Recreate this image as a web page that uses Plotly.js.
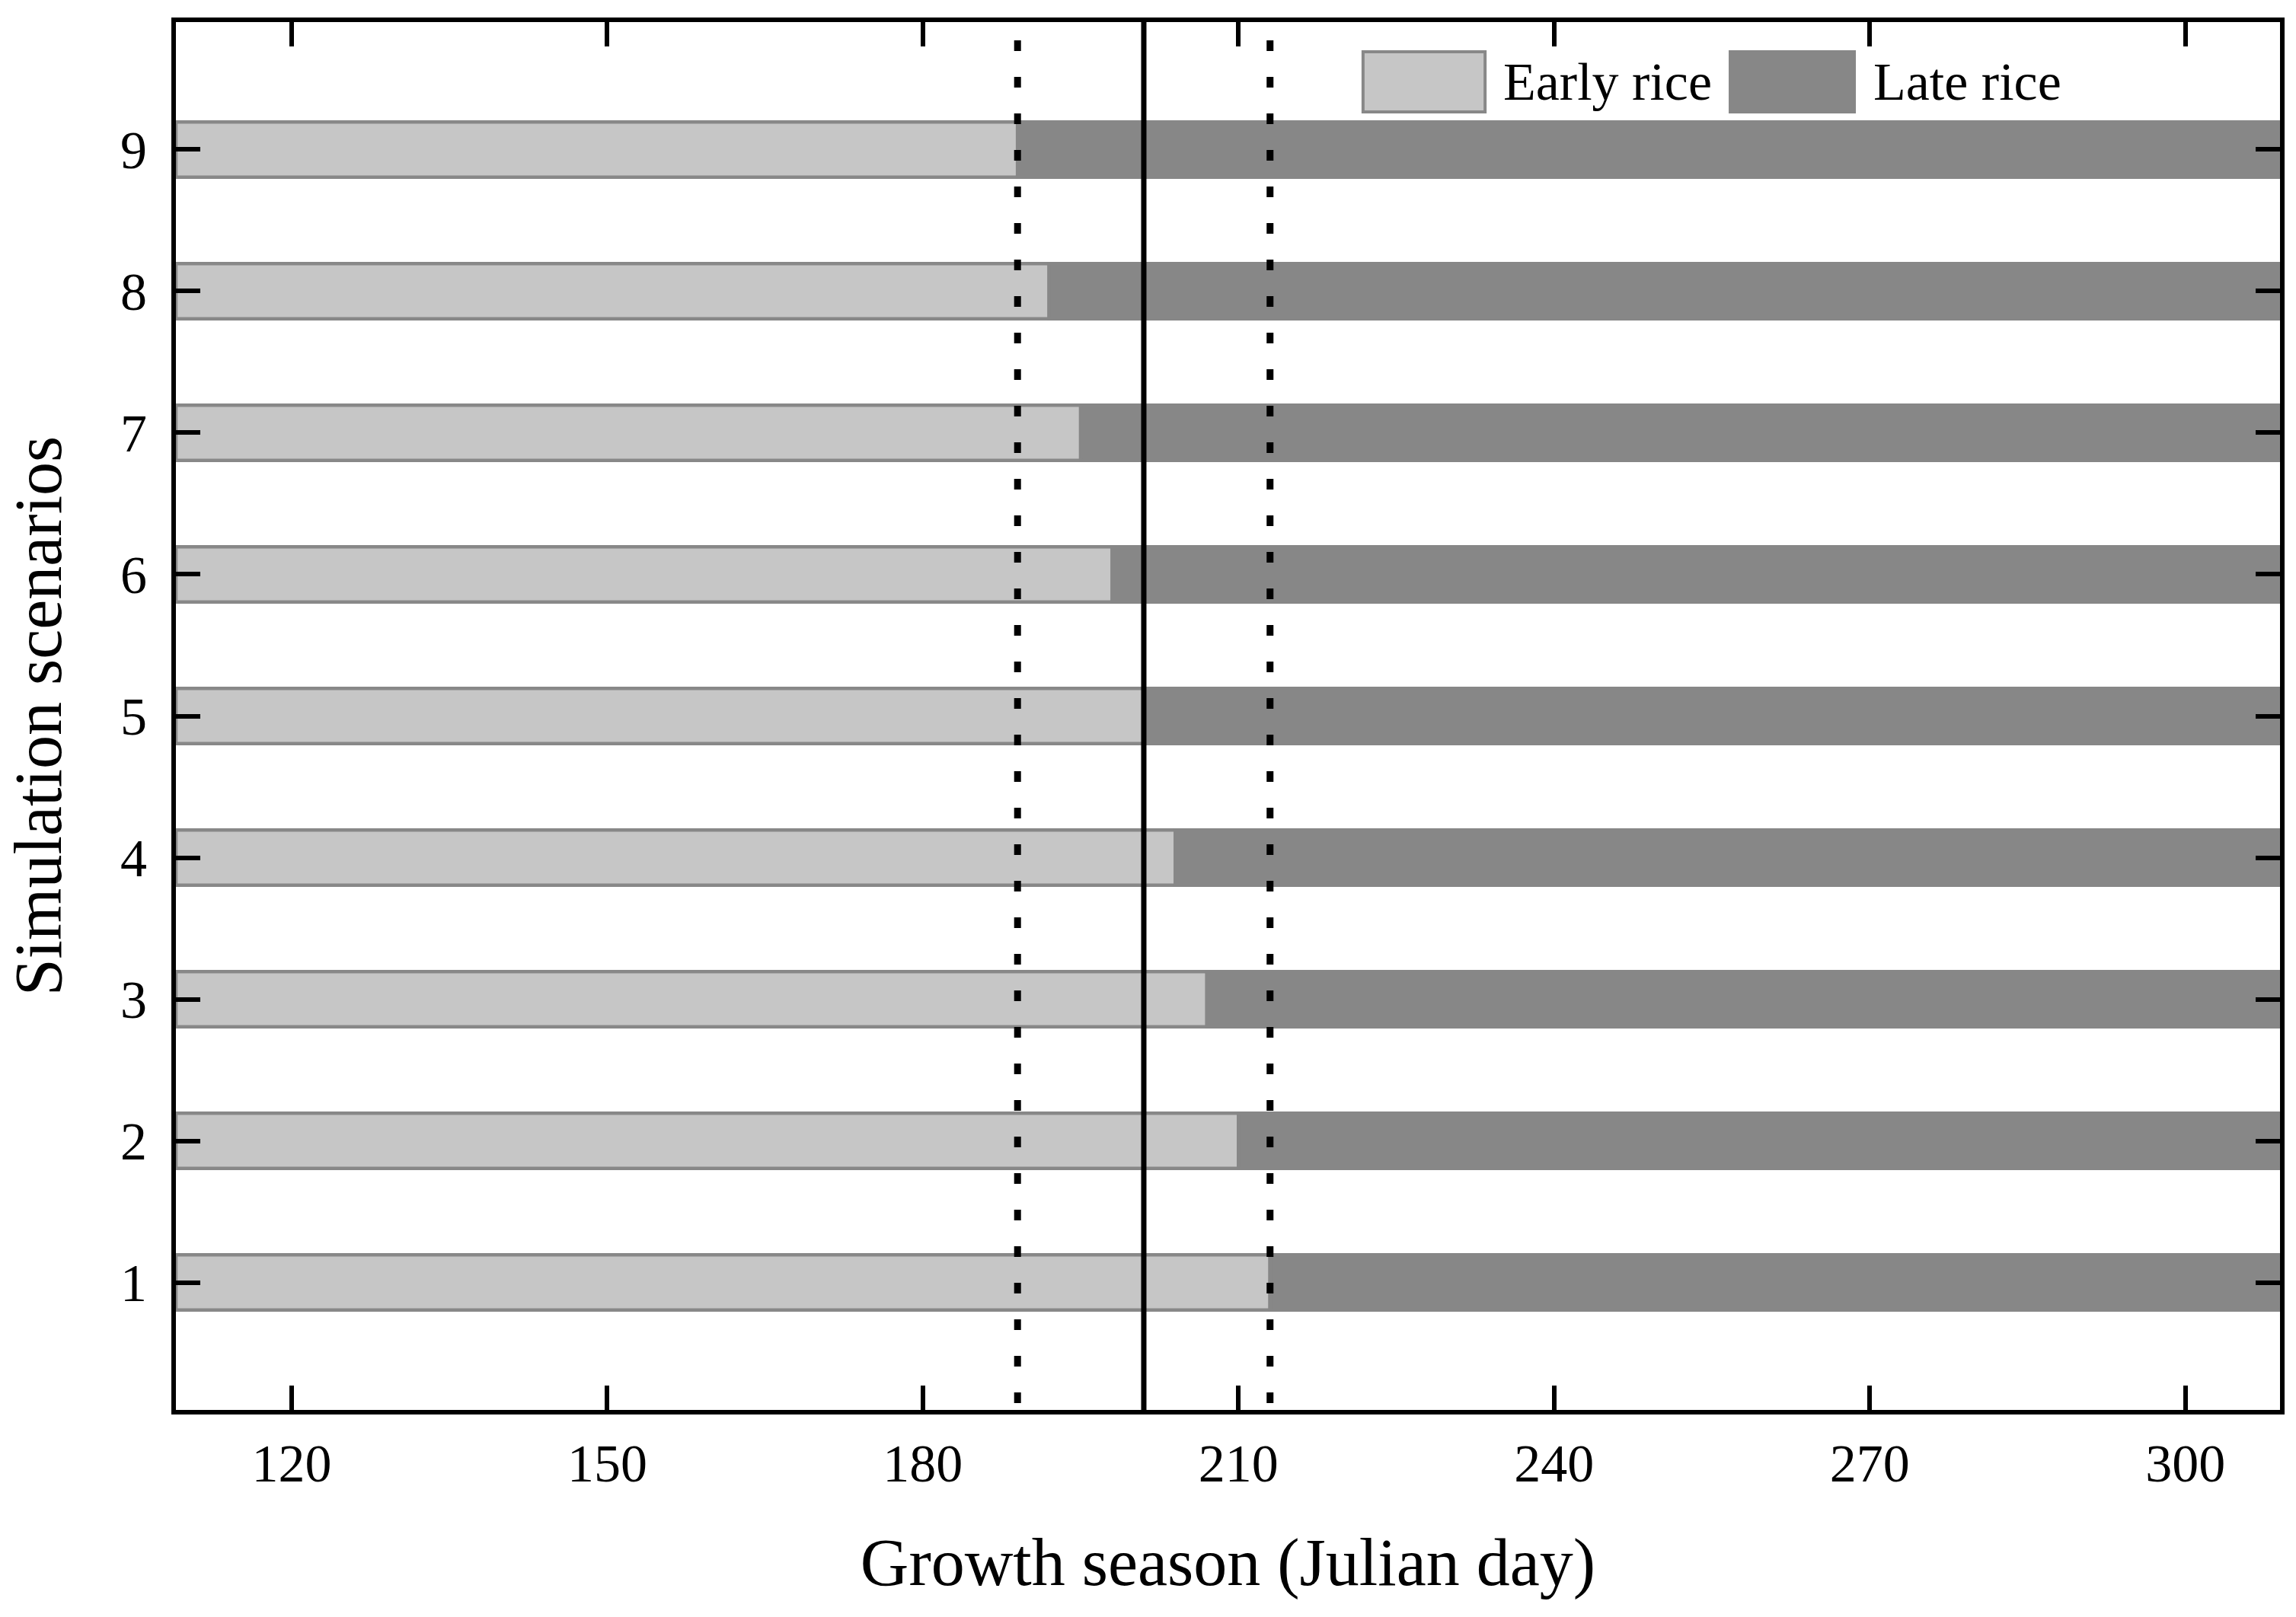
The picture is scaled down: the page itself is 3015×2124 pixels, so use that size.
<!DOCTYPE html>
<html>
<head>
<meta charset="utf-8">
<script src="https://cdn.plot.ly/plotly-3.0.1.min.js"></script>
<style>html,body{margin:0;padding:0;background:#fff;}#chart{width:3015px;height:2124px;}</style>
</head>
<body>
<div id="chart"></div>
<script>
// ---- data ----
const scenarios   = [1, 2, 3, 4, 5, 6, 7, 8, 9];
const earlyStart  = [109, 109, 109, 109, 109, 109, 109, 109, 109];
const earlyEnd    = [213, 210, 207, 204, 201, 198, 195, 192, 189];
const lateEnd     = [309, 309, 309, 309, 309, 309, 309, 309, 309];
const solidLineDay  = [201];
const dottedLineDays = [189, 213];
const xTickVals = [120, 150, 180, 210, 240, 270, 300];
const seriesNames = ['Early rice', 'Late rice'];

const earlyColor = '#c6c6c6';
const earlyEdge = '#888888';
const lateColor = '#878787';
const FONT = 'Liberation Serif, Times New Roman, serif';

const early = {
  type: 'bar', orientation: 'h', name: seriesNames[0],
  y: scenarios,
  base: earlyStart,
  x: earlyEnd.map((e, i) => e - earlyStart[i]),
  width: 0.39,
  marker: {color: earlyColor, line: {color: earlyEdge, width: 4.5}},
  showlegend: false, hoverinfo: 'skip'
};
const late = {
  type: 'bar', orientation: 'h', name: seriesNames[1],
  y: scenarios,
  base: earlyEnd,
  x: lateEnd.map((e, i) => e - earlyEnd[i]),
  width: 0.39,
  marker: {color: lateColor, line: {color: lateColor, width: 4.5}},
  showlegend: false, hoverinfo: 'skip'
};

const shapes = [];
solidLineDay.forEach(d => shapes.push({
  type: 'line', xref: 'x', yref: 'paper', x0: d, x1: d, y0: 1, y1: 0,
  line: {color: '#000', width: 7}
}));
dottedLineDays.forEach(d => shapes.push({
  type: 'line', xref: 'x', yref: 'paper', x0: d, x1: d, y0: 1, y1: 0,
  line: {color: '#000', width: 9, dash: '0px,24px,14px,10px'}
}));
// manual legend swatches (paper coords)
shapes.push({type: 'rect', xref: 'paper', yref: 'paper', x0: 0.5642, x1: 0.6222, y0: 0.9353, y1: 0.9786,
  fillcolor: earlyColor, line: {color: earlyEdge, width: 4}});
shapes.push({type: 'rect', xref: 'paper', yref: 'paper', x0: 0.7387, x1: 0.7977, y0: 0.9353, y1: 0.9786,
  fillcolor: lateColor, line: {color: lateColor, width: 4}});

const annotations = [
  {xref: 'paper', yref: 'paper', x: 0.6301, y: 0.957, xanchor: 'left', yanchor: 'middle',
   text: seriesNames[0], showarrow: false, font: {family: FONT, size: 70, color: '#000'}},
  {xref: 'paper', yref: 'paper', x: 0.806, y: 0.957, xanchor: 'left', yanchor: 'middle',
   text: seriesNames[1], showarrow: false, font: {family: FONT, size: 70, color: '#000'}}
];

const layout = {
  width: 3015, height: 2124,
  margin: {l: 231, r: 21, t: 29, b: 272},
  paper_bgcolor: '#fff', plot_bgcolor: '#fff',
  barmode: 'overlay',
  font: {family: FONT, color: '#000'},
  xaxis: {
    range: [109, 309], tickvals: xTickVals, ticktext: xTickVals.map(String),
    showgrid: false, zeroline: false,
    showline: true, linecolor: '#000', linewidth: 6, mirror: 'ticks',
    ticks: 'inside', ticklen: 32, tickwidth: 6, tickcolor: '#000',
    tickfont: {family: FONT, size: 70, color: '#000'},
    ticklabelstandoff: 4,
    title: {text: 'Growth season (Julian day)', font: {family: FONT, size: 88, color: '#000'}, standoff: 62}
  },
  yaxis: {
    range: [0.1, 9.9], tickvals: scenarios, ticktext: scenarios.map(String),
    showgrid: false, zeroline: false,
    showline: true, linecolor: '#000', linewidth: 6, mirror: 'ticks',
    ticks: 'inside', ticklen: 32, tickwidth: 6, tickcolor: '#000',
    tickfont: {family: FONT, size: 70, color: '#000'},
    ticklabelstandoff: 18,
    title: {text: 'Simulation scenarios', font: {family: FONT, size: 88, color: '#000'}, standoff: 50}
  },
  shapes: shapes,
  annotations: annotations
};

Plotly.newPlot('chart', [early, late], layout, {displayModeBar: false, staticPlot: true});
</script>
</body>
</html>
